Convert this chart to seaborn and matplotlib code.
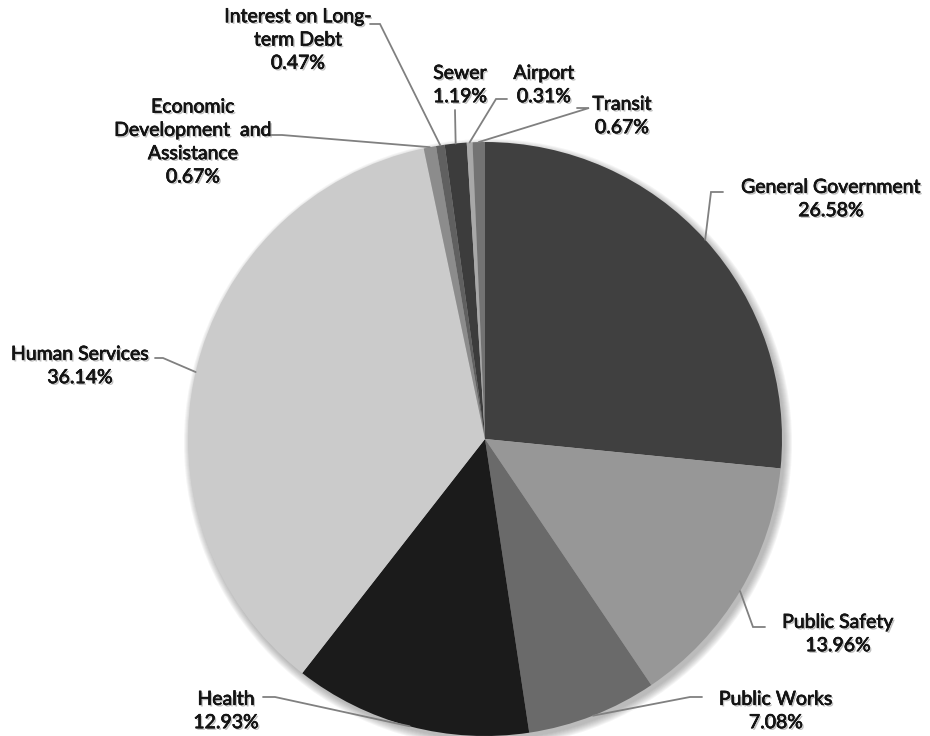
import numpy as np
import matplotlib
matplotlib.use("Agg")
import matplotlib.pyplot as plt
import matplotlib.patheffects as pe
from matplotlib.patches import Circle
import seaborn as sns

# data, clockwise from 12 o'clock
categories = ["General Government", "Public Safety", "Public Works", "Health",
              "Human Services", "Economic\nDevelopment  and\nAssistance",
              "Interest on Long-\nterm Debt", "Sewer", "Airport", "Transit"]
shares = [26.58, 13.96, 7.08, 12.93, 36.14, 0.67, 0.47, 1.19, 0.31, 0.67]
grays = ["#404040", "#979797", "#6a6a6a", "#1b1b1b", "#cbcbcb",
         "#8c8c8c", "#606060", "#3c3c3c", "#a8a8a8", "#737373"]

# layout in pixels of the 930x736 image: pie centre and radius
CX, CY, R = 485, 439, 297
# label centre, stub start, stub end (elbow) per slice
label_xy = [(831, 199), (838, 634), (776, 711), (226, 711), (80, 366),
            (193, 142), (298, 40), (460, 85), (544, 85), (622, 116)]
stub_a = [(723, 192), (765, 627), (702, 697), (263, 697), (155, 358),
          (268, 135), (370, 24), (455, 110), (507, 99), (577, 108)]
stub_b = [(711, 192), (753, 627), (690, 697), (275, 697), (163, 358),
          (282, 135), (380, 24), (455, 111), (496, 99), (589, 108)]


def px(x, y):
    return (x - CX) / R, (CY - y) / R


sns.set_theme(style="white")
plt.rcParams['font.family'] = ['Lato', 'DejaVu Sans']

fig = plt.figure(figsize=(9.3, 7.36), dpi=100)
ax = fig.add_axes([0, 0, 1, 1])

# soft drop shadow behind the pie
for k in range(8):
    ax.add_patch(Circle(px(CX + 3, CY + 4), (R + k) / R,
                        color="0.3", alpha=0.055, lw=0, zorder=0))

wedges, _ = ax.pie(shares, colors=grays, startangle=90, counterclock=False,
                   radius=1, center=(0, 0),
                   wedgeprops=dict(linewidth=0, zorder=1))

# labels with leader lines to slice midpoints
cum = np.cumsum([0] + shares[:-1])
text_fx = [pe.withSimplePatchShadow(offset=(1.2, -1.2), shadow_rgbFace="0.5", alpha=0.5),
           pe.Stroke(linewidth=0.45, foreground="#141414"), pe.Normal()]
for i, (name, val) in enumerate(zip(categories, shares)):
    mid = np.deg2rad(90 - 360 * (cum[i] + val / 2) / 100)
    edge = (np.cos(mid), np.sin(mid))
    a, b = px(*stub_a[i]), px(*stub_b[i])
    ax.plot([a[0], b[0], edge[0]], [a[1], b[1], edge[1]],
            color="#808080", lw=1.3, zorder=3, solid_joinstyle="miter")
    tx, ty = px(*label_xy[i])
    ax.text(tx, ty, f"{name}\n{val:.2f}%", ha="center", va="center",
            multialignment="center", fontsize=14, color="#141414",
            linespacing=1.45, path_effects=text_fx, zorder=4)

ax.set_xlim(px(0, 0)[0], px(930, 0)[0])
ax.set_ylim(px(0, 736)[1], px(0, 0)[1])
ax.set_aspect("auto")
ax.axis("off")

fig.savefig("out.png", dpi=100, facecolor="white")
